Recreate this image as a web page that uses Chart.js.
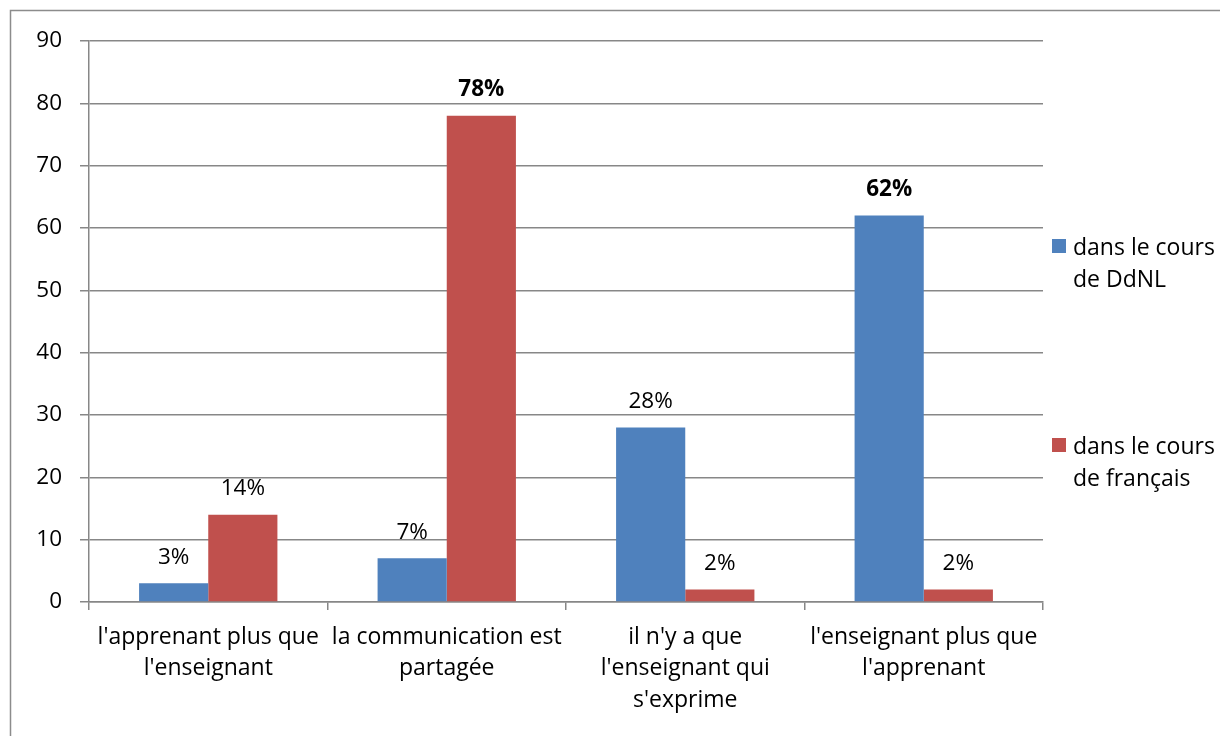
<!DOCTYPE html>
<html>
<head>
<meta charset="utf-8">
<script src="https://cdn.jsdelivr.net/npm/chart.js@4.4.1/dist/chart.umd.min.js"></script>
<style>
  html, body { margin: 0; padding: 0; background: #fff; }
  #wrap { width: 1220px; height: 736px; position: relative; }
</style>
</head>
<body>
<div id="wrap"><canvas id="c" width="1220" height="736"></canvas></div>
<script>
const categories = [
  ["l'apprenant plus que", "l'enseignant"],
  ["la communication est", "partagée"],
  ["il n'y a que", "l'enseignant qui", "s'exprime"],
  ["l'enseignant plus que", "l'apprenant"]
];
const seriesNames = [["dans le cours", "de DdNL"], ["dans le cours", "de français"]];
const ddnlValues = [3, 7, 28, 62];
const francaisValues = [14, 78, 2, 2];
const yTicks = [0, 10, 20, 30, 40, 50, 60, 70, 80, 90];

const FONT = "'Open Sans', 'Liberation Sans', sans-serif";
const GRID = '#878787';
const COLORS = ['#4F81BD', '#C0504D'];

const frame = {
  id: 'frame',
  beforeDraw(chart) {
    const ctx = chart.ctx;
    ctx.save();
    ctx.strokeStyle = '#8c8c8c';
    ctx.lineWidth = 1.5;
    ctx.strokeRect(10.5, 10.5, 1240, 760);
    ctx.restore();
  }
};

const valueLabels = {
  id: 'valueLabels',
  afterDatasetsDraw(chart) {
    const ctx = chart.ctx;
    ctx.save();
    ctx.textAlign = 'center';
    ctx.textBaseline = 'middle';
    ctx.fillStyle = '#000';
    chart.data.datasets.forEach((ds, di) => {
      const meta = chart.getDatasetMeta(di);
      const max = Math.max(...ds.data);
      meta.data.forEach((bar, i) => {
        const v = ds.data[i];
        ctx.font = (v === max ? 'bold ' : '') + '22.5px ' + FONT;
        ctx.fillText(v + '%', bar.x, bar.y - 26);
      });
    });
    ctx.restore();
  }
};

const sideLegend = {
  id: 'sideLegend',
  afterDraw(chart) {
    const ctx = chart.ctx;
    ctx.save();
    ctx.font = '23px ' + FONT;
    ctx.textBaseline = 'middle';
    ctx.textAlign = 'left';
    const tops = [246, 445];
    chart.data.datasets.forEach((ds, di) => {
      const y = tops[di];
      ctx.fillStyle = ds.backgroundColor;
      ctx.fillRect(1052, y - 7, 14, 14);
      ctx.fillStyle = '#000';
      ds.label.forEach((line, li) => {
        ctx.fillText(line, 1073, y + 2 + li * 32);
      });
    });
    ctx.restore();
  }
};

new Chart(document.getElementById('c'), {
  type: 'bar',
  data: {
    labels: categories,
    datasets: [
      { label: seriesNames[0], data: ddnlValues, backgroundColor: COLORS[0] },
      { label: seriesNames[1], data: francaisValues, backgroundColor: COLORS[1] }
    ]
  },
  options: {
    responsive: false,
    animation: false,
    devicePixelRatio: 1,
    layout: { padding: { left: 10, top: 41, right: 177, bottom: 0 } },
    datasets: { bar: { categoryPercentage: 0.58, barPercentage: 1.0 } },
    plugins: { legend: { display: false }, tooltip: { enabled: false } },
    scales: {
      x: {
        afterFit(s) { s.height = 134; },
        grid: { offset: true, drawOnChartArea: false, drawTicks: true, tickLength: 8, color: GRID, lineWidth: 1.5 },
        border: { display: true, color: GRID, width: 1.5 },
        ticks: { color: '#000', font: { family: FONT, size: 23, lineHeight: 1.36 }, padding: 12, maxRotation: 0, autoSkip: false }
      },
      y: {
        min: 0, max: 90,
        afterFit(s) { s.width = 79; },
        afterBuildTicks(s) { s.ticks = yTicks.map(v => ({ value: v })); },
        grid: { color: GRID, lineWidth: 1.5, tickLength: 9 },
        border: { display: true, color: GRID, width: 1.5 },
        ticks: { color: '#000', font: { family: FONT, size: 22.5 }, padding: 18 }
      }
    }
  },
  plugins: [frame, valueLabels, sideLegend]
});
</script>
</body>
</html>
